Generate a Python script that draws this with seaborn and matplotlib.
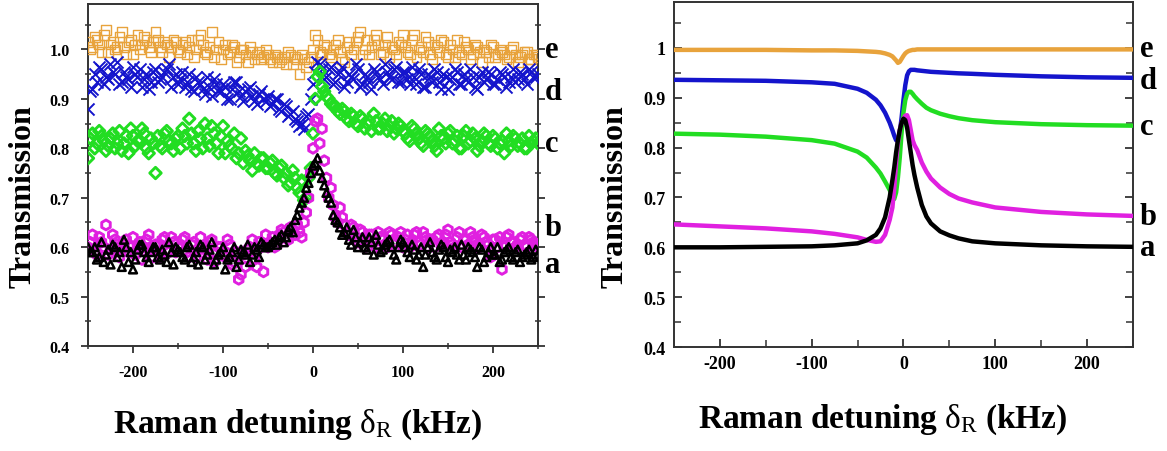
import numpy as np
import pandas as pd
import seaborn as sns
import matplotlib.pyplot as plt
from matplotlib.ticker import MultipleLocator

sns.set_style("ticks")
plt.rcParams['font.family'] = ['Liberation Serif', 'DejaVu Serif']
plt.rcParams['font.weight'] = 'bold'
plt.rcParams['text.color'] = 'black'
plt.rcParams['mathtext.fontset'] = 'custom'
plt.rcParams['mathtext.rm'] = 'Liberation Serif:weight=normal'
plt.rcParams['mathtext.it'] = 'Liberation Serif:weight=normal'
plt.rcParams['axes.unicode_minus'] = False

# measured data (left panel), detuning in kHz -- two interleaved scans
detuning_scan1 = [-250, -245, -240, -235, -230, -225, -220, -215, -210, -205, -200,
                  -195, -190, -185, -180, -175, -170, -165, -160, -155, -150,
                  -145, -140, -135, -130, -125, -120, -115, -110, -105, -100,
                  -95, -90, -85, -80, -75, -70, -65, -60, -55,
                  -50, -45, -40, -35, -30, -25, -20, -15, -10, -5,
                  0, 5, 10, 15, 20, 25, 30, 35, 40, 45, 50,
                  55, 60, 65, 70, 75, 80, 85, 90, 95, 100,
                  105, 110, 115, 120, 125, 130, 135, 140, 145, 150,
                  155, 160, 165, 170, 175, 180, 185, 190, 195, 200,
                  205, 210, 215, 220, 225, 230, 235, 240, 245, 250]
detuning_scan2 = [-247.5, -242.5, -237.5, -232.5, -227.5, -222.5, -217.5, -212.5, -207.5, -202.5,
                  -197.5, -192.5, -187.5, -182.5, -177.5, -172.5, -167.5, -162.5, -157.5, -152.5,
                  -147.5, -142.5, -137.5, -132.5, -127.5, -122.5, -117.5, -112.5, -107.5, -102.5,
                  -97.5, -92.5, -87.5, -82.5, -77.5, -72.5, -67.5, -62.5, -57.5, -52.5,
                  -47.5, -42.5, -37.5, -32.5, -27.5, -22.5, -17.5, -12.5, -7.5, -2.5,
                  2.5, 7.5, 12.5, 17.5, 22.5, 27.5, 32.5, 37.5, 42.5, 47.5,
                  52.5, 57.5, 62.5, 67.5, 72.5, 77.5, 82.5, 87.5, 92.5, 97.5,
                  102.5, 107.5, 112.5, 117.5, 122.5, 127.5, 132.5, 137.5, 142.5, 147.5,
                  152.5, 157.5, 162.5, 167.5, 172.5, 177.5, 182.5, 187.5, 192.5, 197.5,
                  202.5, 207.5, 212.5, 217.5, 222.5, 227.5, 232.5, 237.5, 242.5, 247.5]

exp_e1 = [1.015, 1.005, 1.02, 0.995, 1.04, 1.01, 1.0, 1.025, 1.005, 1.015, 0.99,
          1.03, 1.01, 1.02, 0.995, 1.035, 1.005, 1.015, 0.985, 1.02, 1.0,
          1.01, 0.99, 1.02, 1.0, 1.03, 0.995, 1.005, 0.985, 1.015, 1.0,
          0.99, 1.01, 0.975, 1.0, 0.99, 1.005, 0.98, 0.995, 0.985,
          0.99, 0.975, 0.985, 0.98, 0.97, 0.99, 0.985, 0.95, 0.98, 0.975,
          1.0, 1.02, 0.99, 1.005, 0.985, 1.01, 0.995, 0.975, 1.015, 1.0, 1.025,
          0.99, 1.02, 1.005, 1.03, 0.99, 1.01, 0.985, 1.0, 1.015, 1.03,
          0.995, 1.02, 0.985, 1.005, 1.025, 0.99, 1.01, 0.995, 1.015, 0.985,
          1.0, 1.02, 0.99, 1.005, 0.98, 1.01, 0.995, 1.0, 0.985, 1.005,
          0.99, 0.995, 0.98, 1.0, 0.99, 0.985, 0.995, 0.98, 0.99, 0.985]
exp_e2 = [1.0, 1.025, 1.01, 1.03, 0.995, 1.015, 1.005, 1.035, 0.99, 1.02,
          1.01, 1.0, 1.025, 1.005, 1.015, 1.02, 0.995, 1.01, 1.005, 1.015,
          0.995, 1.015, 1.005, 0.985, 1.02, 1.01, 0.99, 1.035, 1.0, 0.98,
          1.01, 0.995, 1.005, 0.985, 1.0, 0.975, 0.995, 0.99, 0.98, 1.0,
          0.98, 0.99, 0.975, 0.985, 0.995, 0.97, 0.98, 0.99, 0.965, 0.985,
          1.03, 0.995, 1.01, 0.99, 1.0, 1.02, 0.98, 1.005, 0.99, 1.015,
          1.035, 1.0, 0.99, 1.02, 1.01, 0.995, 1.025, 1.005, 0.99, 1.01,
          1.005, 0.99, 1.03, 1.0, 0.995, 1.015, 0.98, 1.005, 1.02, 0.99,
          1.01, 0.985, 0.995, 1.015, 1.0, 0.99, 1.005, 0.975, 0.995, 1.01,
          0.985, 1.0, 0.99, 0.985, 1.005, 0.975, 0.99, 0.995, 0.98, 0.99]

exp_d1 = [0.88, 0.92, 0.935, 0.96, 0.945, 0.97, 0.95, 0.93, 0.955, 0.94, 0.965,
          0.945, 0.925, 0.95, 0.935, 0.96, 0.94, 0.955, 0.97, 0.945, 0.93,
          0.955, 0.935, 0.92, 0.945, 0.93, 0.91, 0.925, 0.94, 0.915, 0.93,
          0.9, 0.92, 0.935, 0.905, 0.915, 0.925, 0.895, 0.91, 0.9,
          0.905, 0.89, 0.9, 0.875, 0.885, 0.87, 0.86, 0.845, 0.84, 0.87,
          0.93, 0.975, 0.96, 0.945, 0.965, 0.935, 0.955, 0.925, 0.95, 0.94, 0.96,
          0.93, 0.945, 0.92, 0.955, 0.94, 0.97, 0.945, 0.96, 0.935, 0.955,
          0.94, 0.965, 0.93, 0.95, 0.925, 0.945, 0.96, 0.935, 0.95, 0.92,
          0.945, 0.955, 0.93, 0.94, 0.96, 0.925, 0.945, 0.935, 0.955, 0.93,
          0.94, 0.95, 0.925, 0.945, 0.935, 0.955, 0.94, 0.96, 0.945, 0.95]
exp_d2 = [0.915, 0.95, 0.965, 0.93, 0.94, 0.955, 0.975, 0.935, 0.945, 0.925,
          0.95, 0.96, 0.94, 0.92, 0.955, 0.935, 0.945, 0.96, 0.925, 0.95,
          0.94, 0.925, 0.95, 0.915, 0.935, 0.92, 0.945, 0.905, 0.93, 0.915,
          0.925, 0.9, 0.935, 0.915, 0.895, 0.92, 0.905, 0.89, 0.915, 0.895,
          0.885, 0.9, 0.88, 0.89, 0.865, 0.875, 0.855, 0.85, 0.865, 0.9,
          0.955, 0.97, 0.94, 0.96, 0.93, 0.95, 0.965, 0.935, 0.945, 0.97,
          0.925, 0.95, 0.935, 0.96, 0.945, 0.93, 0.955, 0.94, 0.965, 0.935,
          0.955, 0.93, 0.945, 0.96, 0.925, 0.95, 0.935, 0.955, 0.92, 0.945,
          0.94, 0.96, 0.93, 0.95, 0.935, 0.945, 0.92, 0.955, 0.94, 0.95,
          0.93, 0.955, 0.945, 0.935, 0.96, 0.94, 0.95, 0.93, 0.955, 0.945]

exp_c1 = [0.78, 0.83, 0.81, 0.825, 0.795, 0.82, 0.8, 0.835, 0.81, 0.79, 0.825,
          0.815, 0.84, 0.8, 0.82, 0.75, 0.805, 0.83, 0.815, 0.795, 0.825,
          0.84, 0.81, 0.83, 0.795, 0.82, 0.85, 0.805, 0.83, 0.79, 0.845,
          0.815, 0.8, 0.78, 0.82, 0.795, 0.775, 0.79, 0.765, 0.78,
          0.76, 0.775, 0.745, 0.765, 0.75, 0.73, 0.74, 0.71, 0.695, 0.74,
          0.83, 0.945, 0.925, 0.905, 0.89, 0.885, 0.87, 0.875, 0.855, 0.865, 0.845,
          0.86, 0.85, 0.835, 0.855, 0.84, 0.86, 0.845, 0.83, 0.85, 0.835,
          0.82, 0.845, 0.83, 0.81, 0.835, 0.825, 0.805, 0.84, 0.82, 0.83,
          0.81, 0.825, 0.8, 0.835, 0.815, 0.82, 0.805, 0.83, 0.81, 0.825,
          0.8, 0.815, 0.83, 0.805, 0.82, 0.81, 0.8, 0.825, 0.815, 0.81]
exp_c2 = [0.82, 0.8, 0.835, 0.815, 0.805, 0.83, 0.81, 0.795, 0.825, 0.84,
          0.805, 0.815, 0.83, 0.79, 0.81, 0.825, 0.8, 0.835, 0.81, 0.82,
          0.8, 0.825, 0.86, 0.81, 0.835, 0.8, 0.82, 0.845, 0.81, 0.825,
          0.79, 0.805, 0.83, 0.79, 0.77, 0.785, 0.755, 0.77, 0.78, 0.76,
          0.77, 0.75, 0.76, 0.74, 0.725, 0.755, 0.72, 0.735, 0.7, 0.76,
          0.9, 0.955, 0.915, 0.9, 0.885, 0.875, 0.88, 0.86, 0.87, 0.85,
          0.865, 0.84, 0.855, 0.87, 0.84, 0.85, 0.835, 0.855, 0.84, 0.845,
          0.83, 0.815, 0.84, 0.82, 0.805, 0.83, 0.815, 0.795, 0.825, 0.81,
          0.835, 0.815, 0.8, 0.825, 0.81, 0.83, 0.795, 0.815, 0.825, 0.805,
          0.82, 0.81, 0.79, 0.815, 0.825, 0.805, 0.82, 0.8, 0.81, 0.82]

exp_b1 = [0.6, 0.625, 0.585, 0.61, 0.645, 0.595, 0.615, 0.58, 0.605, 0.59, 0.62,
          0.6, 0.575, 0.615, 0.595, 0.605, 0.58, 0.62, 0.59, 0.61, 0.6,
          0.615, 0.59, 0.605, 0.58, 0.62, 0.595, 0.61, 0.57, 0.6, 0.585,
          0.615, 0.565, 0.59, 0.545, 0.56, 0.6, 0.575, 0.61, 0.55,
          0.6, 0.62, 0.605, 0.635, 0.62, 0.64, 0.625, 0.63, 0.65, 0.7,
          0.8, 0.86, 0.84, 0.74, 0.72, 0.66, 0.68, 0.645, 0.625, 0.64, 0.61,
          0.63, 0.615, 0.625, 0.6, 0.62, 0.605, 0.63, 0.61, 0.62, 0.6,
          0.625, 0.61, 0.63, 0.605, 0.62, 0.615, 0.6, 0.625, 0.61, 0.635,
          0.605, 0.62, 0.6, 0.615, 0.63, 0.61, 0.6, 0.62, 0.605, 0.615,
          0.6, 0.555, 0.62, 0.61, 0.6, 0.615, 0.605, 0.62, 0.61, 0.6]
exp_b2 = [0.61, 0.59, 0.62, 0.6, 0.585, 0.625, 0.605, 0.595, 0.615, 0.6,
          0.585, 0.61, 0.6, 0.625, 0.58, 0.605, 0.615, 0.595, 0.62, 0.59,
          0.6, 0.62, 0.58, 0.61, 0.595, 0.6, 0.575, 0.615, 0.59, 0.6,
          0.58, 0.605, 0.57, 0.535, 0.585, 0.595, 0.615, 0.56, 0.6, 0.625,
          0.61, 0.6, 0.625, 0.63, 0.615, 0.635, 0.645, 0.62, 0.67, 0.75,
          0.855, 0.81, 0.775, 0.7, 0.685, 0.65, 0.66, 0.63, 0.645, 0.62,
          0.635, 0.6, 0.625, 0.61, 0.63, 0.615, 0.6, 0.625, 0.61, 0.63,
          0.615, 0.6, 0.625, 0.61, 0.63, 0.6, 0.615, 0.62, 0.605, 0.625,
          0.61, 0.6, 0.63, 0.615, 0.605, 0.62, 0.6, 0.625, 0.61, 0.58,
          0.615, 0.62, 0.6, 0.625, 0.61, 0.605, 0.62, 0.6, 0.615, 0.605]

exp_a1 = [0.6, 0.59, 0.575, 0.61, 0.585, 0.565, 0.6, 0.59, 0.615, 0.57, 0.555,
          0.595, 0.605, 0.58, 0.59, 0.6, 0.575, 0.585, 0.61, 0.565, 0.595,
          0.58, 0.6, 0.57, 0.59, 0.605, 0.575, 0.595, 0.565, 0.585, 0.6,
          0.575, 0.59, 0.56, 0.595, 0.585, 0.57, 0.6, 0.58, 0.605,
          0.6, 0.61, 0.605, 0.625, 0.62, 0.64, 0.655, 0.68, 0.7, 0.73,
          0.765, 0.78, 0.74, 0.71, 0.69, 0.655, 0.64, 0.63, 0.615, 0.635, 0.6,
          0.62, 0.595, 0.61, 0.625, 0.59, 0.605, 0.615, 0.585, 0.6, 0.61,
          0.59, 0.605, 0.575, 0.6, 0.585, 0.61, 0.58, 0.595, 0.6, 0.57,
          0.59, 0.585, 0.605, 0.575, 0.595, 0.58, 0.6, 0.57, 0.59, 0.585,
          0.6, 0.575, 0.595, 0.58, 0.59, 0.57, 0.585, 0.595, 0.58, 0.585]
exp_a2 = [0.59, 0.6, 0.58, 0.57, 0.595, 0.605, 0.58, 0.56, 0.6, 0.59,
          0.575, 0.605, 0.59, 0.57, 0.6, 0.58, 0.595, 0.57, 0.59, 0.6,
          0.59, 0.575, 0.605, 0.58, 0.565, 0.6, 0.585, 0.61, 0.575, 0.59,
          0.555, 0.58, 0.6, 0.575, 0.59, 0.605, 0.585, 0.595, 0.61, 0.6,
          0.605, 0.615, 0.62, 0.61, 0.635, 0.63, 0.665, 0.69, 0.72, 0.75,
          0.77, 0.755, 0.725, 0.7, 0.665, 0.65, 0.625, 0.64, 0.605, 0.62,
          0.61, 0.6, 0.62, 0.585, 0.605, 0.595, 0.61, 0.6, 0.575, 0.615,
          0.6, 0.58, 0.595, 0.585, 0.56, 0.6, 0.59, 0.575, 0.605, 0.58,
          0.595, 0.6, 0.575, 0.585, 0.6, 0.59, 0.56, 0.595, 0.58, 0.6,
          0.585, 0.57, 0.59, 0.6, 0.575, 0.595, 0.58, 0.59, 0.575, 0.595]

# calculated curves (right panel)
detuning_th = [-250, -200, -150, -100, -75, -50, -40, -30, -25, -20, -15, -12,
               -10, -8, -6, -4, -2, 0, 2, 4, 6, 8, 10, 12, 15, 20, 25, 30,
               40, 50, 60, 75, 100, 150, 200, 250]
th_e = [0.996, 0.996, 0.996, 0.995, 0.995, 0.994, 0.993, 0.992, 0.991, 0.989, 0.986, 0.983,
        0.979, 0.975, 0.97, 0.972, 0.978, 0.984, 0.989, 0.992, 0.994, 0.995, 0.996, 0.996,
        0.997, 0.997, 0.997, 0.997, 0.997, 0.997, 0.997, 0.997, 0.997, 0.997, 0.997, 0.997]
th_d = [0.936, 0.935, 0.934, 0.931, 0.928, 0.918, 0.91, 0.896, 0.885, 0.87, 0.85, 0.835,
        0.824, 0.815, 0.813, 0.83, 0.86, 0.895, 0.925, 0.945, 0.953, 0.956, 0.956, 0.956,
        0.955, 0.954, 0.953, 0.952, 0.951, 0.95, 0.949, 0.948, 0.946, 0.943, 0.941, 0.94]
th_c = [0.828, 0.826, 0.822, 0.815, 0.808, 0.792, 0.78, 0.76, 0.748, 0.732, 0.715, 0.703,
        0.697, 0.71, 0.74, 0.78, 0.83, 0.87, 0.895, 0.908, 0.912, 0.912, 0.908, 0.903,
        0.897, 0.888, 0.88, 0.875, 0.868, 0.863, 0.859, 0.855, 0.851, 0.847, 0.845, 0.844]
th_b = [0.646, 0.642, 0.638, 0.632, 0.627, 0.62, 0.615, 0.611, 0.612, 0.625, 0.655, 0.68,
        0.72, 0.77, 0.81, 0.835, 0.85, 0.858, 0.864, 0.865, 0.855, 0.835, 0.815, 0.805,
        0.795, 0.77, 0.752, 0.738, 0.72, 0.707, 0.698, 0.69, 0.68, 0.671, 0.666, 0.663]
th_a = [0.6, 0.6, 0.601, 0.602, 0.604, 0.608, 0.614, 0.625, 0.638, 0.66, 0.7, 0.735,
        0.76, 0.79, 0.815, 0.835, 0.85, 0.858, 0.855, 0.84, 0.815, 0.79, 0.765, 0.745,
        0.72, 0.685, 0.662, 0.648, 0.632, 0.624, 0.618, 0.612, 0.608, 0.604, 0.602, 0.601]

curve_names = ["e", "d", "c", "b", "a"]
colors = {"e": "#E8A33C", "d": "#1414CC", "c": "#22DD22", "b": "#E020E0", "a": "#000000"}
exp_data = {"e": (exp_e1, exp_e2), "d": (exp_d1, exp_d2), "c": (exp_c1, exp_c2),
            "b": (exp_b1, exp_b2), "a": (exp_a1, exp_a2)}
th_data = {"e": th_e, "d": th_d, "c": th_c, "b": th_b, "a": th_a}
markers = {"e": "s", "d": "x", "c": "D", "b": "h", "a": "^"}
sizes = {"e": 50, "d": 75, "c": 34, "b": 50, "a": 32}
widths = {"e": 1.0, "d": 1.4, "c": 2.1, "b": 2.1, "a": 1.8}

# label positions (y value of the letter beside each curve)
left_label_y = {"e": 1.0, "d": 0.915, "c": 0.81, "b": 0.64, "a": 0.565}
right_label_y = {"e": 0.998, "d": 0.935, "c": 0.842, "b": 0.662, "a": 0.6}

fig = plt.figure(figsize=(11.67, 4.52), dpi=100)
ax1 = fig.add_axes([0.0754, 0.2323, 0.3856, 0.7566])
ax2 = fig.add_axes([0.5775, 0.2300, 0.3933, 0.7633])

# left: measurement
for name in curve_names:
    col = colors[name]
    scan1, scan2 = exp_data[name]
    df = pd.DataFrame({"detuning": detuning_scan1 + detuning_scan2,
                       "transmission": scan1 + scan2})
    if markers[name] == "x":
        sns.scatterplot(data=df, x="detuning", y="transmission", ax=ax1, marker="x",
                        s=sizes[name], color=col, linewidth=widths[name], zorder=3)
    else:
        sns.scatterplot(data=df, x="detuning", y="transmission", ax=ax1,
                        marker=markers[name], s=sizes[name], facecolor="none",
                        edgecolor=col, linewidth=widths[name], zorder=3)

# right: calculation
for name in curve_names:
    sns.lineplot(x=detuning_th, y=th_data[name], ax=ax2, color=colors[name],
                 linewidth=3.2, estimator=None, sort=True, zorder=3)

for ax in (ax1, ax2):
    ax.set_xlim(-250, 250)
    ax.set_ylim(0.4, 1.092)
    ax.xaxis.set_major_locator(MultipleLocator(100))
    ax.xaxis.set_minor_locator(MultipleLocator(50))
    ax.yaxis.set_major_locator(MultipleLocator(0.1))
    ax.yaxis.set_minor_locator(MultipleLocator(0.05))
    for sp in ax.spines.values():
        sp.set_visible(True)
        sp.set_linewidth(1.4)
        sp.set_color("#333333")
    ax.set_xlabel("")
    ax.set_ylabel("")

yt = [0.4, 0.5, 0.6, 0.7, 0.8, 0.9, 1.0]
ax1.set_yticks(yt, ["0.4", "0.5", "0.6", "0.7", "0.8", "0.9", "1.0"])
ax2.set_yticks(yt, ["0.4", "0.5", "0.6", "0.7", "0.8", "0.9", "1"])
xt = [-200, -100, 0, 100, 200]
for ax in (ax1, ax2):
    ax.set_xticks(xt, ["-200", "-100", "0", "100", "200"])

ax1.tick_params(axis="both", which="major", direction="out", length=5, width=1.3,
                labelsize=11.5, pad=8, right=True, colors="#333333", labelcolor="black")
ax1.tick_params(axis="both", which="minor", direction="inout", length=5, width=1.1,
                right=True, colors="#333333")
ax1.tick_params(axis="y", which="both", right=True, labelright=False)
ax2.tick_params(axis="both", which="major", direction="in", length=6, width=1.3,
                labelsize=13, pad=6, right=True, colors="#333333", labelcolor="black")
ax2.tick_params(axis="both", which="minor", direction="in", length=5, width=1.1,
                right=True, colors="#333333")
ax2.tick_params(axis="y", which="both", right=True, labelright=False)
for ax in (ax1, ax2):
    for lab in ax.get_xticklabels() + ax.get_yticklabels():
        lab.set_fontweight("bold")

# curve letters
for name in curve_names:
    ax1.text(1.015, left_label_y[name], name, transform=ax1.get_yaxis_transform(),
             fontsize=22, fontweight="bold", ha="left", va="center", color="black")
    ax2.text(1.015, right_label_y[name], name, transform=ax2.get_yaxis_transform(),
             fontsize=22, fontweight="bold", ha="left", va="center", color="black")

xlabel = r"Raman detuning $\delta_{\mathrm{R}}$ (kHz)"
ax1.text(0.467, -0.251, xlabel, transform=ax1.transAxes, fontsize=24,
         fontweight="bold", ha="center", va="baseline", color="black")
ax2.text(0.455, -0.232, xlabel, transform=ax2.transAxes, fontsize=24,
         fontweight="bold", ha="center", va="baseline", color="black")
ax1.text(-0.144, 0.44, "Transmission", transform=ax1.transAxes, fontsize=23,
         fontweight="bold", rotation=90, ha="center", va="center", color="black")
ax2.text(-0.129, 0.44, "Transmission", transform=ax2.transAxes, fontsize=23,
         fontweight="bold", rotation=90, ha="center", va="center", color="black")

fig.savefig("out.png", dpi=100)
